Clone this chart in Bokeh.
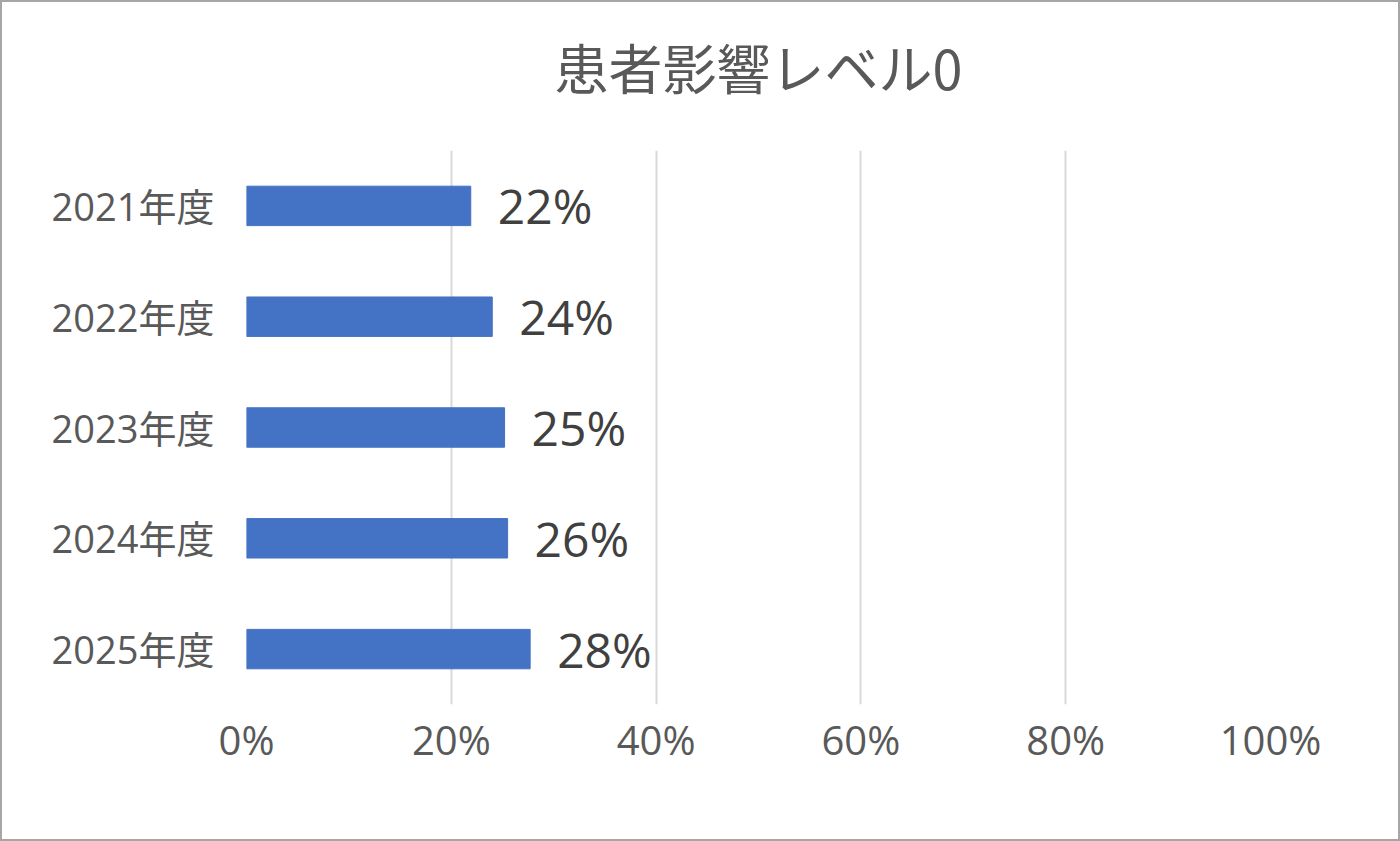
from bokeh.plotting import figure
from bokeh.layouts import column
from bokeh.models import FactorRange, Range1d, NumeralTickFormatter, FixedTicker, ColumnDataSource
from bokeh.core.properties import value
from bokeh.embed import file_html
from bokeh.resources import INLINE

title_text = "患者影響レベル0"
categories = ["2021年度", "2022年度", "2023年度", "2024年度", "2025年度"]
values = [0.219, 0.240, 0.252, 0.255, 0.277]
labels = ["22%", "24%", "25%", "26%", "28%"]
x_ticks = [0, 0.2, 0.4, 0.6, 0.8, 1.0]

FONT = "'Open Sans', 'Noto Sans CJK JP'"
CJK = "Noto Sans CJK JP"

W = 1396
TITLE_H = 148
CHART_H = 837 - TITLE_H

# ---- title strip (its own small figure so the title sits exactly where wanted)
t = figure(
    width=W, height=TITLE_H, x_range=Range1d(0, 1), y_range=Range1d(0, 1),
    output_backend="svg", toolbar_location=None,
    x_axis_location=None, y_axis_location=None,
    min_border=0, min_border_left=0, min_border_right=0, min_border_top=0, min_border_bottom=0,
)
t.outline_line_color = None
t.grid.visible = False
t.text(x=[0.5], y=[0.5676], text=[title_text], text_align="center", text_baseline="middle",
       text_font=value(CJK), text_font_size="54px", text_color="#595959")

# ---- bar chart
src = ColumnDataSource(dict(cat=categories, val=values, lab=labels))

p = figure(
    width=W, height=CHART_H,
    y_range=FactorRange(factors=list(reversed(categories)), range_padding=0),
    x_range=Range1d(0, 1),
    output_backend="svg", toolbar_location=None,
    min_border_left=244, min_border_right=128, min_border_top=0, min_border_bottom=135,
)

p.hbar(y="cat", right="val", left=0, height=0.356, source=src,
       fill_color="#4472C4", line_color="#4472C4")

p.text(x="val", y="cat", text="lab", source=src, x_offset=27,
       text_baseline="middle", text_align="left",
       text_font=value(FONT), text_font_size="48px", text_color="#404040")

p.outline_line_color = None
p.ygrid.grid_line_color = None
p.xgrid.grid_line_color = "#d9d9d9"
p.xgrid.grid_line_width = 2
p.xaxis.ticker = FixedTicker(ticks=x_ticks)
p.xaxis.formatter = NumeralTickFormatter(format="0%")

for ax in (p.xaxis, p.yaxis):
    ax.axis_line_color = None
    ax.major_tick_line_color = None
    ax.minor_tick_line_color = None
    ax.major_label_text_font = FONT
    ax.major_label_text_color = "#595959"

p.yaxis.major_label_text_font_size = "38px"
p.xaxis.major_label_text_font_size = "40px"
p.yaxis.major_label_standoff = 26
p.xaxis.major_label_standoff = 1

layout = column(t, p, spacing=0, styles={"border": "2px solid #a6a6a6", "background": "white"})

open("out.html", "w").write(file_html(layout, INLINE))
